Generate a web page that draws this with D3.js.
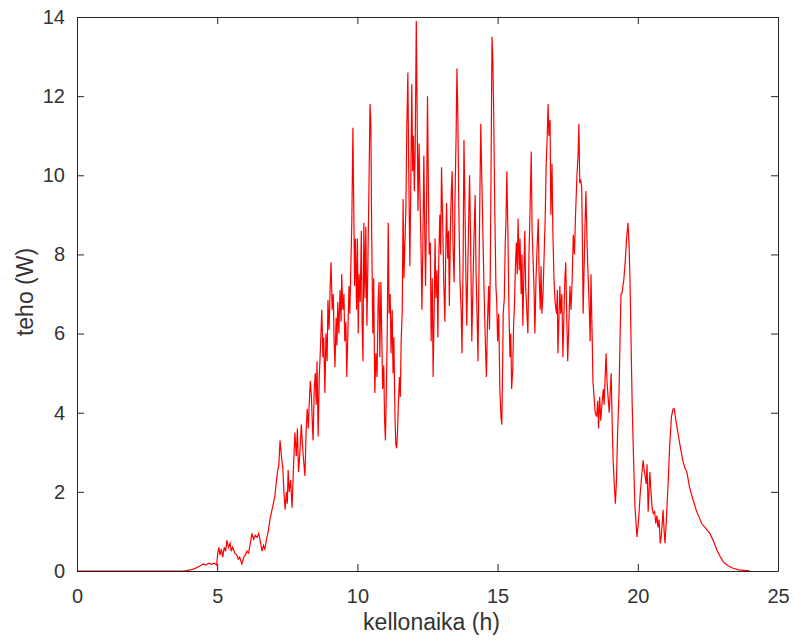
<!DOCTYPE html>
<html>
<head>
<meta charset="utf-8">
<title>teho</title>
<script src="https://cdn.jsdelivr.net/npm/d3@7/dist/d3.min.js"></script>
<style>
  body { margin: 0; background: #fff; }
  .axis path, .axis line { stroke: #262626; stroke-width: 1px; }
  .axis text { font-family: "Liberation Sans", Arial, sans-serif; font-size: 20px; fill: #333; }
  .label { font-family: "Liberation Sans", Arial, sans-serif; font-size: 23px; fill: #333; }
  .line { fill: none; stroke: #ff0000; stroke-width: 1.2px; }
</style>
</head>
<body>
<div id="chart"></div>
<script>
var xTicks = [0, 5, 10, 15, 20, 25];
var yTicks = [0, 2, 4, 6, 8, 10, 12, 14];

// kellonaika (h)
var hours = [
  0, 3.8, 4.0, 4.2, 4.4, 4.5, 4.6, 4.7, 4.8, 4.9, 4.98,
  5.02, 5.06, 5.1, 5.15, 5.2, 5.25, 5.3, 5.35, 5.4, 5.46, 5.5, 5.55, 5.63, 5.7, 5.75, 5.8, 5.88, 5.95,
  6.0, 6.06, 6.12, 6.18, 6.24, 6.3, 6.36, 6.42, 6.48, 6.55, 6.6, 6.65, 6.7, 6.76, 6.82, 6.88, 6.94,
  7.0, 7.06, 7.1, 7.15, 7.2, 7.24, 7.29, 7.34, 7.38, 7.42, 7.47, 7.5, 7.53, 7.57, 7.62, 7.67, 7.72, 7.77, 7.82, 7.86, 7.9, 7.95,
  8.0, 8.04, 8.08, 8.13, 8.17, 8.21, 8.25, 8.28, 8.32, 8.36, 8.4, 8.42, 8.46, 8.5, 8.53, 8.56, 8.6, 8.64, 8.68, 8.73, 8.77, 8.8, 8.84, 8.88, 8.92, 8.95, 8.99,
  9.03, 9.06, 9.1, 9.14, 9.17, 9.2, 9.24, 9.27, 9.3, 9.34, 9.38, 9.42, 9.44, 9.48, 9.52, 9.55, 9.59, 9.62, 9.66, 9.7, 9.73, 9.77, 9.8, 9.84, 9.87, 9.9, 9.93, 9.97,
  10.0, 10.03, 10.06, 10.1, 10.14, 10.17, 10.2, 10.23, 10.27, 10.3, 10.34, 10.37, 10.41, 10.45, 10.48, 10.51, 10.55, 10.58, 10.62, 10.66, 10.7, 10.74, 10.77, 10.8, 10.84, 10.87, 10.9, 10.94, 10.97,
  11.0, 11.03, 11.06, 11.1, 11.13, 11.17, 11.2, 11.24, 11.27, 11.3, 11.34, 11.37, 11.4, 11.43, 11.46, 11.5, 11.53, 11.56, 11.6, 11.63, 11.66, 11.7, 11.73, 11.76, 11.8, 11.83, 11.87, 11.9, 11.94, 11.97,
  12.0, 12.03, 12.06, 12.1, 12.13, 12.16, 12.2, 12.23, 12.27, 12.3, 12.33, 12.37, 12.4, 12.43, 12.47, 12.5, 12.53, 12.56, 12.6, 12.63, 12.67, 12.7, 12.74, 12.77, 12.8, 12.84, 12.87, 12.9, 12.94, 12.97,
  13.0, 13.04, 13.08, 13.12, 13.15, 13.18, 13.22, 13.25, 13.28, 13.32, 13.35, 13.38, 13.41, 13.45, 13.48, 13.52, 13.55, 13.58, 13.62, 13.66, 13.7, 13.73, 13.77, 13.8, 13.84, 13.87, 13.9, 13.94, 13.97,
  14.0, 14.04, 14.08, 14.12, 14.16, 14.2, 14.23, 14.27, 14.3, 14.34, 14.37, 14.4, 14.44, 14.48, 14.52, 14.56, 14.6, 14.64, 14.68, 14.71, 14.74, 14.77, 14.8, 14.83, 14.86, 14.9, 14.94, 14.97,
  15.0, 15.04, 15.08, 15.12, 15.15, 15.18, 15.2, 15.24, 15.27, 15.3, 15.33, 15.37, 15.4, 15.44, 15.47, 15.5, 15.54, 15.57, 15.6, 15.64, 15.67, 15.7, 15.73, 15.77, 15.8, 15.84, 15.87, 15.9, 15.94, 15.97,
  16.0, 16.04, 16.08, 16.12, 16.16, 16.2, 16.23, 16.26, 16.3, 16.33, 16.37, 16.41, 16.45, 16.48, 16.52, 16.55, 16.58, 16.62, 16.66, 16.7, 16.73, 16.77, 16.8, 16.83, 16.87, 16.9, 16.94, 16.97,
  17.01, 17.05, 17.1, 17.13, 17.15, 17.18, 17.22, 17.25, 17.29, 17.33, 17.37, 17.4, 17.43, 17.47, 17.5, 17.54, 17.58, 17.62, 17.66, 17.7, 17.74, 17.78, 17.83, 17.87, 17.9, 17.93, 17.96,
  18.0, 18.03, 18.05, 18.09, 18.12, 18.15, 18.19, 18.23, 18.27, 18.3, 18.33, 18.37, 18.4, 18.44, 18.48, 18.53, 18.57, 18.6, 18.64, 18.68, 18.72, 18.77, 18.8, 18.84, 18.87, 18.9, 18.94, 18.98,
  19.02, 19.05, 19.09, 19.12, 19.16, 19.2, 19.24, 19.28, 19.33, 19.37, 19.4, 19.43, 19.47, 19.5, 19.55, 19.6, 19.65, 19.69, 19.72, 19.76, 19.8, 19.85, 19.9, 19.97,
  20.03, 20.08, 20.15, 20.19, 20.22, 20.26, 20.3, 20.33, 20.37, 20.4, 20.43, 20.47, 20.51, 20.55, 20.6, 20.64, 20.68, 20.72, 20.76, 20.8, 20.84, 20.87, 20.9, 20.94, 20.97,
  21.02, 21.08, 21.14, 21.2, 21.26, 21.3, 21.36, 21.43, 21.5, 21.6, 21.68, 21.75, 21.85, 21.97,
  22.1, 22.28, 22.45, 22.57, 22.7, 22.82, 22.95, 23.05, 23.2, 23.4, 23.6, 23.9, 24.0
];

// teho (W)
var teho = [
  0, 0, 0.02, 0.06, 0.13, 0.18, 0.15, 0.2, 0.17, 0.2, 0.15,
  0.45, 0.6, 0.4, 0.55, 0.35, 0.6, 0.5, 0.78, 0.6, 0.7, 0.5, 0.6, 0.45, 0.4, 0.3, 0.35, 0.18, 0.35,
  0.4, 0.5, 0.45, 0.7, 0.95, 0.8, 0.9, 0.85, 0.95, 0.7, 0.5, 0.65, 0.55, 0.8, 1.0, 1.3, 1.5,
  1.7, 1.9, 2.2, 2.5, 2.7, 3.3, 2.9, 2.6, 2.0, 1.55, 2.0, 1.7, 2.55, 2.0, 2.3, 1.6, 2.6, 3.5, 2.9, 3.6, 2.5, 3.0,
  3.7, 3.2, 2.8, 2.4, 3.5, 4.1, 3.6, 4.2, 4.8, 4.4, 3.6, 3.3, 4.6, 5.0, 4.2, 5.3, 3.4, 4.9, 5.6, 6.6, 5.4, 5.9, 4.5, 6.0, 5.3, 6.85, 6.1,
  7.2, 7.8, 6.6, 7.0, 5.8, 5.15, 6.4, 5.7, 6.8, 6.0, 7.1, 6.3, 7.5, 6.6, 7.0, 5.8, 6.3, 4.9, 6.0, 7.2, 6.5, 7.8, 8.8, 11.2, 9.2, 7.2, 8.4, 6.6,
  8.4, 6.0, 7.5, 6.8, 8.6, 6.2, 5.3, 8.8, 6.9, 8.7, 6.2, 7.6, 9.6, 11.8, 11.3, 8.5, 6.0, 7.4, 4.5, 5.5, 4.9, 6.8, 7.3, 5.4, 7.3, 5.9, 4.6, 5.2, 3.8,
  3.3, 4.5, 5.8, 8.8, 6.5, 7.0, 5.5, 6.6, 5.0, 5.9, 3.9, 3.2, 3.1, 3.5, 4.2, 4.9, 4.4, 5.8, 6.6, 9.4, 7.4, 8.4, 9.2, 11.1, 12.6, 10.2, 7.7, 9.5, 12.3, 10.1,
  11.0, 9.6, 10.6, 13.9, 11.6, 9.1, 10.8, 9.6, 8.1, 6.6, 8.0, 10.5, 8.7, 7.2, 9.5, 12.0, 9.8, 8.0, 8.3, 5.8, 7.4, 4.9, 6.7, 8.4, 6.9, 7.6, 5.9, 7.8, 9.0, 8.0,
  10.2, 8.9, 7.3, 6.3, 8.0, 9.3, 7.9, 8.6, 6.7, 8.8, 9.6, 10.1, 8.2, 7.3, 9.4, 11.0, 12.7, 11.6, 9.0, 7.3, 6.6, 5.5, 7.8, 10.9, 9.0, 7.4, 6.2, 7.8, 8.9,
  10.0, 8.2, 5.8, 7.2, 8.5, 9.5, 7.6, 6.4, 5.3, 7.8, 9.6, 11.3, 9.8, 8.4, 7.0, 5.9, 4.9, 6.3, 7.2, 6.1, 7.6, 10.5, 13.5, 12.9, 11.6, 9.1, 7.2, 6.8,
  5.8, 6.5, 4.6, 3.9, 3.7, 5.2, 6.5, 6.9, 8.2, 8.9, 10.1, 8.4, 6.8, 5.4, 6.0, 4.6, 5.1, 6.2, 6.7, 7.8, 8.3, 7.5, 8.9, 7.6, 8.4, 7.0, 8.0, 6.2, 7.6, 8.6,
  7.2, 6.6, 6.0, 8.0, 9.2, 10.6, 8.6, 8.0, 7.1, 6.0, 7.4, 8.2, 8.9, 7.5, 6.6, 7.7, 6.5, 7.0, 8.0, 9.0, 10.2, 11.0, 11.8, 11.0, 11.4, 9.0, 10.3, 8.6,
  7.4, 6.8, 6.5, 7.1, 5.5, 6.2, 7.2, 6.5, 7.0, 5.4, 6.6, 7.4, 7.8, 6.3, 5.3, 6.2, 7.2, 6.6, 7.4, 8.5, 8.0, 9.0, 10.0, 10.5, 11.3, 9.8, 9.9,
  9.7, 8.0, 6.5, 7.8, 8.8, 9.6, 8.3, 7.4, 6.6, 5.8, 7.5, 6.0, 4.8, 4.4, 4.0, 3.9, 4.3, 3.6, 4.4, 3.8, 4.2, 4.6, 4.2, 5.0, 5.5, 4.8, 4.4, 4.0,
  4.6, 5.0, 3.6, 2.8, 2.2, 1.7, 2.3, 3.5, 4.5, 6.0, 7.0, 7.0, 7.2, 7.35, 7.8, 8.4, 8.8, 8.2, 7.4, 5.8, 4.2, 2.8, 1.6, 0.86,
  1.3, 1.9, 2.5, 2.8, 2.6, 2.4, 2.2, 2.7, 1.5, 2.0, 2.5, 2.0, 1.6, 1.45, 1.5, 1.2, 1.4, 1.1, 1.3, 0.7, 0.9, 1.2, 1.55, 1.0, 0.7,
  1.3, 2.2, 3.2, 3.9, 4.1, 4.1, 3.8, 3.5, 3.2, 2.8, 2.6, 2.5, 2.1, 1.8,
  1.5, 1.2, 1.05, 0.95, 0.75, 0.53, 0.35, 0.23, 0.14, 0.07, 0.03, 0.01, 0
];

var width = 795, height = 642;
var margin = {left: 77, top: 17, right: 17, bottom: 71};
var w = width - margin.left - margin.right,
    h = height - margin.top - margin.bottom;

var svg = d3.select("#chart").append("svg")
    .attr("width", width)
    .attr("height", height);

var g = svg.append("g")
    .attr("transform", "translate(" + margin.left + "," + margin.top + ")");

var x = d3.scaleLinear().domain([0, 25]).range([0, w]);
var y = d3.scaleLinear().domain([0, 14]).range([h, 0]);

var data = hours.map(function(d, i){ return [d, teho[i]]; });

// line first, box on top
g.append("path")
    .datum(data)
    .attr("class", "line")
    .attr("d", d3.line()
        .x(function(d){ return x(d[0]); })
        .y(function(d){ return y(d[1]); }));

g.append("g")
    .attr("class", "axis")
    .attr("transform", "translate(0," + h + ")")
    .call(d3.axisBottom(x).tickValues(xTicks).tickSizeInner(-7).tickSizeOuter(0).tickPadding(18));

g.append("g")
    .attr("class", "axis")
    .call(d3.axisLeft(y).tickValues(yTicks).tickSizeInner(-7).tickSizeOuter(0).tickPadding(12));

g.append("g")
    .attr("class", "axis")
    .call(d3.axisTop(x).tickValues(xTicks).tickSizeInner(-7).tickSizeOuter(0).tickFormat(""));

g.append("g")
    .attr("class", "axis")
    .attr("transform", "translate(" + w + ",0)")
    .call(d3.axisRight(y).tickValues(yTicks).tickSizeInner(-7).tickSizeOuter(0).tickFormat(""));

svg.append("text")
    .attr("class", "label")
    .attr("text-anchor", "middle")
    .attr("x", margin.left + w / 2 + 4)
    .attr("y", 630)
    .text("kellonaika (h)");

svg.append("text")
    .attr("class", "label")
    .attr("text-anchor", "middle")
    .attr("transform", "translate(33," + (margin.top + h / 2 - 2) + ") rotate(-90)")
    .text("teho (W)");
</script>
</body>
</html>
